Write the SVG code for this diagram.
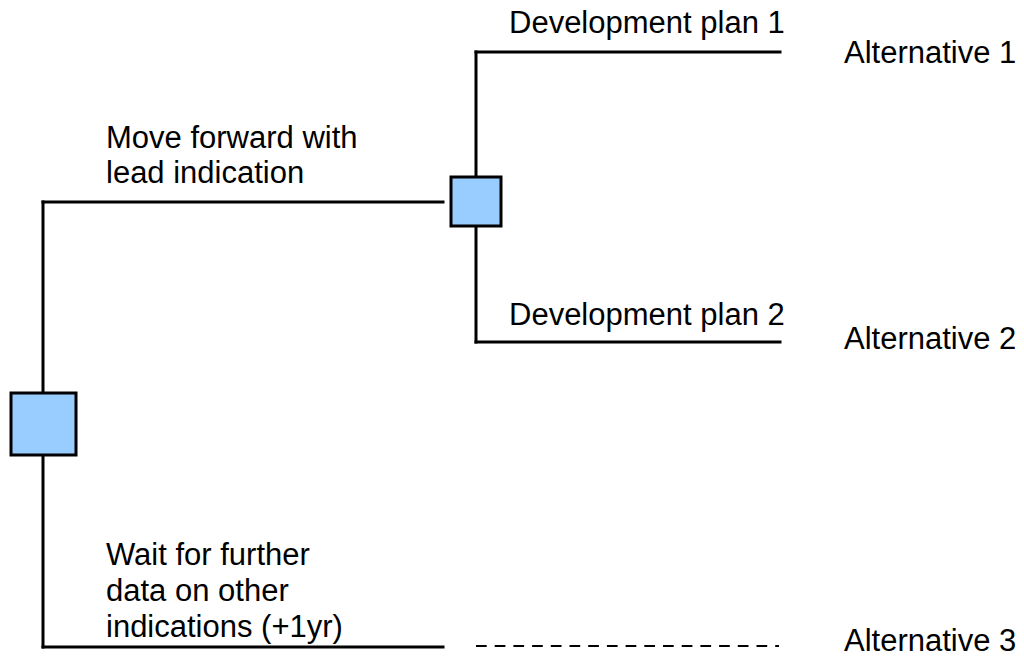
<svg xmlns="http://www.w3.org/2000/svg" width="1024" height="658" viewBox="0 0 1024 658">
<style>
.ln{stroke:#000;stroke-width:3;fill:none;stroke-linecap:square}
.dash{stroke:#000;stroke-width:2;fill:none;stroke-dasharray:10.7 8}
.box{fill:#99CCFF;stroke:#000;stroke-width:3}
text{font-family:"Liberation Sans",Arial,sans-serif;font-size:31px;fill:#000}
</style>
<rect width="1024" height="658" fill="#fff"/>
<g id="connectors">
<path class="ln" d="M43,202 V647"/>
<path class="ln" d="M43,202 H443"/>
<path class="ln" d="M43,647 H443"/>
<path class="ln" d="M476,52 V342"/>
<path class="ln" d="M476,52 H780"/>
<path class="ln" d="M476,342 H780"/>
<path class="dash" d="M476,646 H779"/>
</g>
<g id="decision1"><rect class="box" x="11" y="393" width="65" height="62"/></g>
<g id="decision2"><rect class="box" x="451" y="177" width="50" height="49"/></g>
<g id="label-move"><text x="106" y="148">Move forward with</text><text x="106" y="183">lead indication</text></g>
<g id="label-wait"><text x="106" y="565">Wait for further</text><text x="106" y="601">data on other</text><text x="106" y="637">indications (+1yr)</text></g>
<g id="label-plan1"><text x="509" y="33">Development plan 1</text></g>
<g id="label-plan2"><text x="509" y="325">Development plan 2</text></g>
<g id="alt1"><text x="844" y="63">Alternative 1</text></g>
<g id="alt2"><text x="844" y="349">Alternative 2</text></g>
<g id="alt3"><text x="844" y="651">Alternative 3</text></g>
</svg>
